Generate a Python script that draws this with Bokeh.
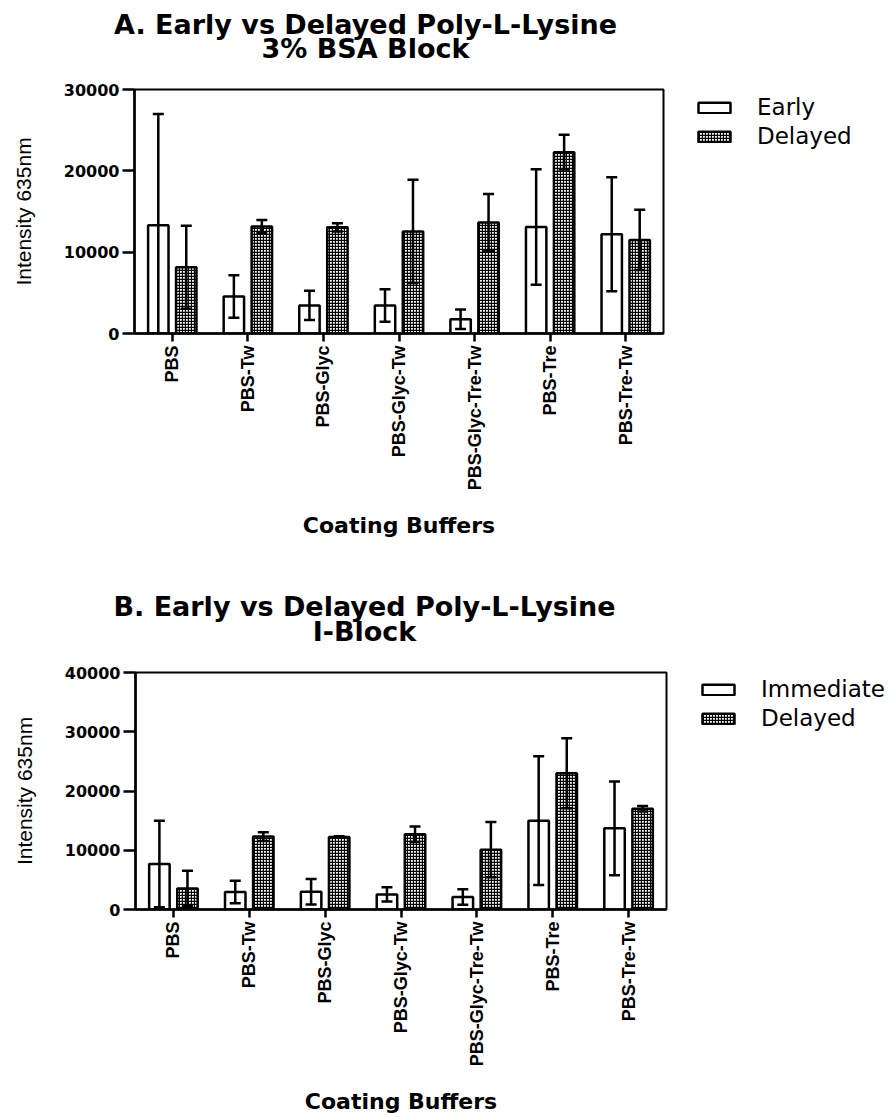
import math
from bokeh.plotting import figure
from bokeh.models import (FactorRange, Range1d, Whisker, TeeHead, ColumnDataSource,
                          Legend, LegendItem, Label, FixedTicker)
from bokeh.transform import dodge
from bokeh.layouts import column, row
from bokeh.embed import file_html
from bokeh.resources import INLINE

# ---------------- data ----------------
categories = ["PBS", "PBS-Tw", "PBS-Glyc", "PBS-Glyc-Tw", "PBS-Glyc-Tre-Tw", "PBS-Tre", "PBS-Tre-Tw"]

# Panel A: 3% BSA Block
a_early_mean = [13300, 4550, 3450, 3450, 1750, 13100, 12200]
a_early_sd = [13700, 2600, 1800, 2000, 1200, 7100, 7000]
a_delayed_mean = [8150, 13150, 13050, 12550, 13650, 22300, 11500]
a_delayed_sd = [5100, 800, 500, 6350, 3500, 2150, 3700]
a_yticks = [0, 10000, 20000, 30000]

# Panel B: I-Block
b_imm_mean = [7700, 2950, 3000, 2550, 2100, 15000, 13700]
b_imm_sd = [7300, 1900, 2150, 1200, 1300, 10850, 7900]
b_delayed_mean = [3550, 12300, 12250, 12700, 10100, 23000, 17000]
b_delayed_sd = [3000, 750, 100, 1300, 4650, 5900, 450]
b_yticks = [0, 10000, 20000, 30000, 40000]

TITLE_FONT = "DejaVu Sans"
WIDE_FONT = "DejaVu Sans"
NARROW_FONT = "Liberation Sans"

EARLY_STYLE = dict(fill_color="white", line_color="black", line_width=2.5)
DELAYED_STYLE = dict(fill_color="white", line_color="black", line_width=2.5,
                     hatch_pattern="cross", hatch_scale=3, hatch_weight=1.3, hatch_color="black")


def blank_fig(width, height, left=0):
    f = figure(width=width, height=height, x_range=Range1d(0, width - left), y_range=Range1d(height, 0),
               x_axis_type=None, y_axis_type=None, output_backend="svg", toolbar_location=None,
               min_border_left=left, min_border_right=0, min_border_top=0, min_border_bottom=0,
               title=None)
    f.outline_line_color = None
    f.xgrid.visible = False
    f.ygrid.visible = False
    f.background_fill_color = "white"
    f.border_fill_color = "white"
    return f


def title_fig(height, line1, line2, cx, y1, y2):
    f = blank_fig(893, height)
    for txt, yy in ((line1, y1), (line2, y2)):
        f.add_layout(Label(x=cx, y=yy, text=txt, text_font=TITLE_FONT, text_font_style="bold",
                           text_font_size="27px", text_align="center",
                           text_baseline="alphabetic", text_color="black"))
    return f


def legend_fig(width, height, first_label, left, offset):
    f = blank_fig(width, height, left=left)
    # legend proxies (hidden; only their style is shown in the legend)
    e = f.vbar(x=[-50], top=[-50], bottom=[-60], width=1, visible=False, **EARLY_STYLE)
    d = f.vbar(x=[-50], top=[-50], bottom=[-60], width=1, visible=False, **DELAYED_STYLE)
    legend = Legend(items=[LegendItem(label=first_label, renderers=[e]),
                           LegendItem(label="Delayed", renderers=[d])],
                    location="top_left", orientation="vertical",
                    border_line_color=None, background_fill_alpha=0,
                    inactive_fill_alpha=0,
                    padding=0, margin=offset, spacing=3,
                    glyph_width=40, glyph_height=13, label_standoff=23,
                    label_text_font=WIDE_FONT, label_text_font_size="23px",
                    label_text_color="black")
    f.add_layout(legend)
    return f


def main_fig(m1, s1, m2, s2, yticks, width, height, b_left, b_top, b_bottom):
    p = figure(width=width, height=height, x_range=FactorRange(factors=categories),
               y_range=Range1d(yticks[0], yticks[-1]),
               output_backend="svg", toolbar_location=None, title=None,
               min_border_left=b_left, min_border_right=4,
               min_border_top=b_top, min_border_bottom=b_bottom)
    p.background_fill_color = "white"
    p.border_fill_color = "white"
    p.outline_line_color = "black"
    p.outline_line_width = 2
    p.xgrid.visible = False
    p.ygrid.visible = False

    src1 = ColumnDataSource(dict(cats=categories, top=m1,
                                 lower=[max(0, m - s) for m, s in zip(m1, s1)],
                                 upper=[m + s for m, s in zip(m1, s1)]))
    src2 = ColumnDataSource(dict(cats=categories, top=m2,
                                 lower=[max(0, m - s) for m, s in zip(m2, s2)],
                                 upper=[m + s for m, s in zip(m2, s2)]))

    p.vbar(x=dodge("cats", -0.185, range=p.x_range), top="top", width=0.27, bottom=0,
           source=src1, **EARLY_STYLE)
    p.vbar(x=dodge("cats", 0.185, range=p.x_range), top="top", width=0.27, bottom=0,
           source=src2, **DELAYED_STYLE)

    for src, off in ((src1, -0.185), (src2, 0.185)):
        w = Whisker(base=dodge("cats", off, range=p.x_range), upper="upper", lower="lower",
                    source=src, dimension="height", line_width=2.5, line_color="black",
                    upper_head=TeeHead(size=11, line_width=2.5, line_color="black"),
                    lower_head=TeeHead(size=11, line_width=2.5, line_color="black"),
                    level="overlay")
        p.add_layout(w)

    p.yaxis.ticker = FixedTicker(ticks=yticks)
    p.yaxis.axis_label = "Intensity 635nm"
    p.yaxis.axis_label_text_font = NARROW_FONT
    p.yaxis.axis_label_text_font_style = "normal"
    p.yaxis.axis_label_text_font_size = "21px"
    p.yaxis.axis_label_standoff = 26
    p.yaxis.major_label_text_font = WIDE_FONT
    p.yaxis.major_label_text_font_style = "bold"
    p.yaxis.major_label_text_font_size = "16px"
    p.yaxis.major_label_standoff = 3
    p.yaxis.major_tick_out = 12
    p.yaxis.major_tick_in = 0
    p.yaxis.minor_tick_out = 0
    p.yaxis.minor_tick_in = 0

    p.xaxis.axis_label = "Coating Buffers"
    p.xaxis.axis_label_text_font = WIDE_FONT
    p.xaxis.axis_label_text_font_style = "bold"
    p.xaxis.axis_label_text_font_size = "22px"
    p.xaxis.axis_label_standoff = 20
    p.xaxis.major_label_orientation = math.pi / 2
    p.xaxis.major_label_text_font = NARROW_FONT
    p.xaxis.major_label_text_font_style = "bold"
    p.xaxis.major_label_text_font_size = "18px"
    p.xaxis.major_label_standoff = 4
    p.xaxis.major_tick_out = 8
    p.xaxis.major_tick_in = 0

    for ax in (p.xaxis, p.yaxis):
        ax.axis_line_width = 2.5
        ax.axis_line_color = "black"
        ax.major_tick_line_width = 2.5
        ax.major_tick_line_color = "black"
        ax.major_label_text_color = "black"
        ax.axis_label_text_color = "black"
    return p


# Panel A (page rows 0..560): frame x 134..663, y 89..333
tA = title_fig(70, "A. Early vs Delayed Poly-L-Lysine", "3% BSA Block", 365, 24, 48)
mA = main_fig(a_early_mean, a_early_sd, a_delayed_mean, a_delayed_sd, a_yticks,
              width=667, height=490, b_left=134, b_top=19, b_bottom=227)
lA = legend_fig(226, 490, "Early", left=22, offset=5)

# Panel B (page rows 560..1117): frame x 135..666, y 672..917
tB = title_fig(93, "B. Early vs Delayed Poly-L-Lysine", "I-Block", 364, 46, 71)
mB = main_fig(b_imm_mean, b_imm_sd, b_delayed_mean, b_delayed_sd, b_yticks,
              width=670, height=464, b_left=135, b_top=19, b_bottom=200)
lB = legend_fig(223, 464, "Immediate", left=24, offset=4)

layout = column(tA, row(mA, lA, spacing=0), tB, row(mB, lB, spacing=0), spacing=0)
open("out.html", "w").write(file_html(layout, INLINE))
